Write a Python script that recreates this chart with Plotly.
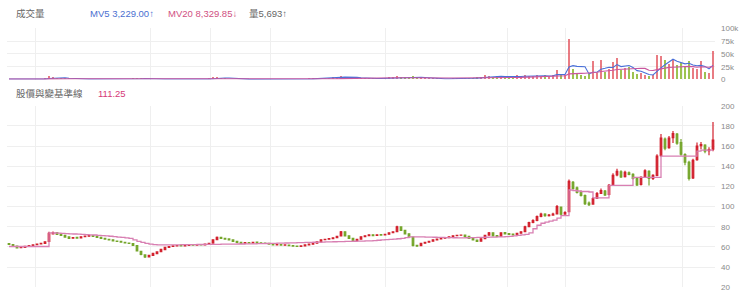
import plotly.graph_objects as go
import pandas as pd

# ---------------- data ----------------
open_ = [63.2, 62.4, 60.8, 59.2, 59.6, 60.8, 61.6, 62.3, 63.0, 63.4,
         65.5, 73.0, 74.2, 72.8, 71.4, 69.9, 68.6, 69.4, 68.9, 70.1,
         70.6, 71.3, 70.4, 69.6, 68.4, 67.6, 67.1, 65.8, 65.6, 64.6,
         63.8, 63.4, 61.2, 55.5, 52.0, 50.2, 51.6, 53.4, 55.2, 57.4,
         59.6, 60.4, 61.0, 61.5, 61.0, 61.5, 62.1, 61.8, 62.4, 62.1,
         62.8, 63.8, 67.2, 69.4, 68.6, 67.9, 66.9, 65.4, 64.4, 63.7,
         64.3, 64.1, 64.7, 64.1, 63.7, 63.5, 62.7, 62.0, 62.3, 61.7,
         61.9, 61.2, 60.7, 60.4, 61.0, 62.1, 62.7, 63.7, 65.0, 67.1,
         67.6, 68.2, 69.1, 70.8, 75.0, 71.0, 68.4, 66.1, 67.6, 70.1,
         71.1, 72.0, 71.3, 72.1, 71.8, 72.6, 74.1, 75.2, 79.8, 76.4,
         73.0, 69.8, 61.6, 61.2, 63.7, 64.6, 65.6, 67.0, 67.9, 68.6,
         69.3, 70.1, 71.1, 71.6, 71.8, 70.4, 68.6, 66.8, 65.6, 68.1,
         71.6, 74.0, 71.1, 70.6, 74.1, 73.1, 72.6, 72.1, 73.6, 75.2,
         80.2, 84.2, 86.2, 90.2, 92.6, 91.0, 91.6, 92.8, 99.5, 92.6,
         95.0, 124.0, 118.5, 114.5, 111.0, 103.5, 102.5, 108.5, 113.2, 115.5,
         112.0, 121.5, 131.5, 134.5, 129.8, 133.5, 132.0, 127.8, 122.0, 129.5,
         135.0, 128.0, 131.0, 150.5, 167.0, 158.5, 168.5, 172.0, 163.5, 151.5,
         144.0, 128.5, 146.5, 160.5, 161.0, 155.5, 157.0]
high = [64.0, 62.8, 61.2, 60.2, 60.9, 61.6, 62.4, 63.0, 63.9, 65.6,
        75.0, 75.2, 74.8, 73.4, 72.0, 70.3, 69.8, 69.9, 70.5, 71.3,
        71.8, 71.6, 70.8, 70.0, 68.9, 68.0, 67.4, 66.2, 66.0, 65.0,
        64.3, 63.8, 61.6, 56.2, 52.6, 52.0, 54.0, 55.6, 58.0, 60.0,
        60.8, 61.5, 61.9, 61.8, 62.0, 62.4, 62.4, 62.8, 62.7, 63.2,
        64.0, 67.6, 70.4, 69.8, 69.0, 68.2, 67.2, 65.8, 64.8, 64.6,
        64.7, 65.1, 65.0, 64.4, 64.1, 63.8, 63.0, 62.7, 62.6, 62.4,
        62.2, 61.5, 61.0, 61.4, 62.4, 63.2, 64.0, 65.4, 67.5, 67.9,
        68.6, 69.4, 71.0, 75.8, 75.4, 71.4, 68.8, 68.0, 70.5, 71.5,
        72.5, 72.4, 72.5, 72.4, 73.0, 74.5, 75.6, 81.0, 80.4, 76.8,
        73.4, 70.2, 62.2, 64.0, 65.0, 66.0, 67.5, 68.3, 69.0, 69.7,
        70.5, 71.5, 72.0, 72.2, 72.1, 70.8, 69.0, 67.2, 68.5, 72.0,
        74.8, 74.4, 71.6, 74.6, 74.5, 73.5, 73.0, 74.0, 75.6, 81.0,
        85.0, 87.5, 91.2, 94.0, 93.5, 92.6, 93.8, 101.5, 100.2, 95.5,
        127.0, 125.5, 120.0, 116.0, 112.0, 105.0, 109.5, 114.5, 118.0, 116.5,
        122.5, 133.0, 137.5, 136.0, 135.5, 134.8, 133.0, 128.5, 130.0, 137.0,
        136.0, 132.0, 152.0, 172.0, 168.5, 170.0, 175.0, 173.0, 167.0, 153.0,
        145.5, 147.5, 163.5, 164.0, 162.0, 159.0, 184.0]
low = [62.0, 60.6, 58.4, 58.8, 59.3, 60.4, 61.0, 61.8, 62.6, 63.0,
       65.0, 72.5, 72.0, 71.0, 69.2, 68.0, 68.2, 68.3, 68.6, 69.8,
       70.3, 70.0, 69.0, 68.0, 67.3, 66.5, 65.5, 65.0, 64.3, 63.5,
       63.0, 61.0, 55.5, 51.8, 49.0, 49.6, 51.2, 53.0, 54.8, 57.0,
       59.2, 60.0, 60.6, 60.5, 60.7, 61.2, 61.4, 61.5, 61.6, 61.8,
       62.5, 63.5, 66.8, 68.0, 67.3, 66.5, 65.0, 64.0, 63.1, 63.3,
       63.6, 63.8, 63.6, 63.4, 63.2, 62.4, 61.6, 61.7, 61.4, 61.4,
       60.8, 60.4, 59.8, 60.1, 60.7, 61.8, 62.4, 63.4, 64.7, 66.6,
       67.2, 67.9, 68.8, 70.4, 70.6, 68.0, 65.5, 65.7, 67.2, 69.8,
       70.8, 70.8, 71.0, 71.3, 71.5, 72.3, 73.8, 74.8, 76.0, 72.5,
       69.5, 60.5, 59.8, 60.8, 63.3, 64.2, 65.2, 66.7, 67.6, 68.2,
       69.0, 69.8, 70.7, 71.2, 70.0, 68.0, 66.5, 64.8, 65.2, 67.7,
       71.2, 70.5, 70.0, 70.2, 72.5, 72.0, 71.5, 71.8, 73.2, 74.8,
       79.6, 83.5, 85.5, 89.5, 90.0, 90.2, 91.0, 92.2, 91.5, 91.8,
       94.5, 117.0, 113.0, 110.0, 101.5, 100.5, 101.8, 107.5, 112.5, 110.5,
       111.2, 120.5, 130.0, 128.5, 128.8, 131.0, 127.0, 120.5, 121.0, 128.5,
       121.0, 126.5, 130.0, 149.5, 156.0, 157.5, 163.0, 161.5, 150.5, 141.0,
       126.0, 127.5, 145.5, 157.0, 153.0, 151.0, 155.0]
close = [62.6, 61.0, 59.0, 59.8, 60.5, 61.2, 62.0, 62.8, 63.5, 65.0,
         73.5, 74.0, 72.5, 71.5, 69.8, 68.5, 69.2, 68.8, 70.0, 70.8,
         71.2, 70.5, 69.5, 68.5, 67.8, 67.0, 66.0, 65.5, 64.8, 64.0,
         63.6, 61.5, 56.0, 52.5, 50.0, 51.5, 53.5, 55.0, 57.5, 59.5,
         60.2, 61.0, 61.4, 61.0, 61.6, 62.0, 61.8, 62.3, 62.0, 62.8,
         63.6, 67.0, 69.5, 68.5, 67.8, 67.0, 65.5, 64.5, 63.6, 64.2,
         64.0, 64.6, 64.0, 63.8, 63.6, 62.8, 62.0, 62.3, 61.8, 62.0,
         61.2, 60.8, 60.4, 61.0, 62.0, 62.8, 63.6, 65.0, 67.0, 67.5,
         68.2, 69.0, 70.5, 75.0, 71.0, 68.5, 66.0, 67.5, 70.0, 71.0,
         72.0, 71.2, 72.0, 71.7, 72.5, 74.0, 75.0, 80.0, 76.5, 73.0,
         70.0, 61.5, 61.0, 63.6, 64.5, 65.5, 67.0, 67.8, 68.5, 69.2,
         70.0, 71.0, 71.5, 71.7, 70.5, 68.5, 67.0, 65.5, 68.0, 71.5,
         74.0, 71.0, 70.5, 74.0, 73.0, 72.5, 72.0, 73.5, 75.0, 80.0,
         84.0, 86.0, 90.0, 92.5, 91.0, 91.5, 92.5, 100.0, 92.5, 94.0,
         125.0, 118.0, 114.0, 111.0, 103.0, 102.0, 108.0, 113.0, 116.0, 111.5,
         121.0, 131.0, 135.0, 129.5, 134.0, 132.0, 128.0, 121.5, 129.0, 135.5,
         128.0, 131.0, 150.0, 168.0, 158.0, 168.0, 172.5, 163.0, 152.0, 144.0,
         128.0, 146.0, 160.0, 161.5, 155.0, 156.5, 166.0]
baseline = ([60.4] * 10 + [74.0] +
            [73.8, 73.6, 73.4, 73.2, 73.0, 72.8, 72.6, 72.4, 72.2, 72.0, 71.8, 71.5] +
            [71.2, 71.0, 70.6, 70.2, 69.8, 69.4, 69.0, 68.5] +
            [67.0, 65.5, 64.5, 63.5, 62.8, 62.3, 62.0, 62.0] +
            [62.0, 62.0, 62.1, 62.1, 62.2, 62.2, 62.3, 62.3, 62.4, 62.4] +
            [62.5, 62.5, 62.6, 62.6, 62.7, 62.7, 62.8, 62.8, 62.9, 62.9, 63.0, 63.0] +
            [63.1, 63.2, 63.3, 63.4, 63.5, 63.6, 63.7, 63.8, 63.9, 64.0,
             64.1, 64.2, 64.3, 64.4, 64.5, 64.6, 64.7, 64.8, 64.9, 65.0,
             65.1, 65.2, 65.3, 65.4, 65.5, 65.6, 65.7, 65.8, 65.9, 66.0] +
            [66.3, 66.6, 66.9, 67.2, 67.5, 67.8, 68.1, 68.5, 69.2, 70.0] +
            [70.0, 70.0, 69.9, 69.8, 69.7, 69.6, 69.5, 69.4, 69.3, 69.2,
             69.1, 69.0, 69.0, 69.1, 69.2, 69.3, 69.4, 69.5, 69.6, 69.7,
             69.8, 69.9, 70.0, 70.2, 70.5] +
            [71.0, 71.5, 72.0] +
            [72.5, 74.0, 78.0, 81.5, 83.5, 84.5, 85.5, 86.5, 88.5, 91.0, 91.0] +
            [116.5, 116.0, 115.5, 115.0, 115.0, 114.5] +
            [108.6] * 4 + [121.0] * 6 + [129.0] * 7 + [150.0] * 8 +
            [150.0, 155.0] + [156.0] * 4)
volume = [1200, 900, 1500, 800, 700, 900, 1100, 800, 1000, 2500,
          6000, 4500, 3000, 2500, 2000, 1800, 1500, 1200, 1400, 1300,
          1100, 1000, 900, 1200, 800, 700, 900, 1000, 800, 900,
          1100, 1800, 3000, 2500, 2200, 1600, 1400, 1300, 1200, 1000,
          900, 800, 1000, 700, 800, 900, 700, 800, 1000, 1200,
          2000, 4500, 5000, 3000, 2000, 1500, 1200, 1000, 900, 800,
          900, 800, 700, 800, 900, 700, 600, 800, 700, 800,
          700, 800, 1000, 1200, 1500, 1800, 2000, 2200, 2500, 3000,
          3500, 4500, 5000, 6500, 5000, 4000, 3500, 3000, 2500, 2200,
          2000, 2500, 2200, 3000, 3500, 4000, 4500, 6000, 5000, 4500,
          5500, 6000, 4000, 3000, 2500, 2200, 2000, 1800, 1600, 1500,
          1500, 1800, 2000, 2200, 2500, 3000, 3500, 4000, 5000, 9000,
          6000, 5000, 7000, 6000, 5500, 5000, 4500, 8000, 7000, 9000,
          7000, 6000, 8000, 7000, 9000, 6000, 8000, 19000, 10000, 8000,
          79000, 20000, 12000, 8000, 6000, 10000, 36000, 12000, 38000, 15000,
          20000, 33000, 41000, 18000, 22000, 24000, 14000, 10000, 12000, 8000,
          6000, 9000, 47000, 45000, 38000, 30000, 39000, 28000, 32000, 25000,
          36000, 22000, 20000, 36000, 15000, 12000, 56000]
vol_ticks = [0, 25000, 50000, 75000, 100000]
vol_tick_text = ["0", "25k", "50k", "75k", "100k"]
price_ticks = [20, 40, 60, 80, 100, 120, 140, 160, 180, 200]
year_marks = [6.5, 35.25, 50.25, 65.25, 94, 124.5, 139, 168.25]

# ---------------- figure ----------------
W, H = 740, 299
n = len(close)
idx = list(range(n))
RED, GREEN = "#d2202d", "#74a52a"
vol_colors = ["rgba(225,80,90,0.75)" if c >= o else "rgba(140,185,50,0.85)"
              for o, c in zip(open_, close)]
vs = pd.Series(volume, dtype=float)
mv5 = vs.rolling(5, min_periods=1).mean()
mv20 = vs.rolling(20, min_periods=1).mean()

fig = go.Figure()
fig.add_trace(go.Bar(x=idx, y=volume, marker_color=vol_colors, marker_line_width=0,
                     width=0.55, xaxis="x", yaxis="y", showlegend=False))
fig.add_trace(go.Scatter(x=idx, y=mv5, mode="lines", line=dict(color="#4a70d8", width=1.1),
                         xaxis="x", yaxis="y", showlegend=False))
fig.add_trace(go.Scatter(x=idx, y=mv20, mode="lines", line=dict(color="#c9579f", width=1.1),
                         xaxis="x", yaxis="y", showlegend=False))
fig.add_trace(go.Scatter(x=idx, y=baseline, mode="lines", line=dict(color="#d87fb2", width=1.3, shape="hv"),
                         xaxis="x2", yaxis="y2", showlegend=False))
fig.add_trace(go.Candlestick(x=idx, open=open_, high=high, low=low, close=close,
                             increasing=dict(line=dict(color=RED, width=1.2), fillcolor=RED),
                             decreasing=dict(line=dict(color=GREEN, width=1.2), fillcolor=GREEN),
                             whiskerwidth=0, xaxis="x2", yaxis="y2", showlegend=False))

xdom = [7 / W, 715 / W]
xrange_ = [-0.5, n - 0.5]
grid = "#efefef"
tickfont = dict(family="Arial, Liberation Sans, sans-serif", size=8, color="#8a8a8a")
fig.update_layout(
    width=W, height=H, margin=dict(l=0, r=0, t=0, b=0),
    paper_bgcolor="white", plot_bgcolor="white", bargap=0, boxgap=0.45,
    xaxis=dict(domain=xdom, range=xrange_, anchor="y", tickvals=year_marks, showticklabels=False,
               showgrid=True, gridcolor=grid, zeroline=False, showline=False, fixedrange=True),
    xaxis2=dict(domain=xdom, range=xrange_, anchor="y2", matches="x", tickvals=year_marks,
                showticklabels=False, showgrid=True, gridcolor=grid, zeroline=False,
                showline=False, rangeslider=dict(visible=False)),
    yaxis=dict(domain=[1 - 78 / H, 1 - 25 / H], range=[0, 100000], side="right", anchor="x",
               tickvals=vol_ticks, ticktext=vol_tick_text, showgrid=True, gridcolor=grid,
               zeroline=False, tickfont=tickfont, ticklabelstandoff=5),
    yaxis2=dict(domain=[1 - 292 / H, 1 - 105 / H], range=[20, 200], side="right", anchor="x2",
                tickvals=price_ticks, showgrid=True, gridcolor=grid, zeroline=False,
                tickfont=tickfont, ticklabelstandoff=5),
)

hfont = "Arial, Liberation Sans, Noto Sans CJK TC, sans-serif"
def label(text, px, py, color):
    fig.add_annotation(text=text, x=px / W, y=1 - py / H, xref="paper", yref="paper",
                       xanchor="left", yanchor="middle", showarrow=False,
                       font=dict(family=hfont, size=9.5, color=color))

label("成交量", 14, 10, "#666666")
label("MV5 3,229.00↑", 88, 10, "#4a6fd0")
label("MV20 8,329.85↓", 166, 10, "#d0507f")
label("量5,693↑", 247, 10, "#666666")
label("股價與變基準線", 14, 92, "#666666")
label("111.25", 96, 92, "#d63a78")

fig.write_html("out.html")
